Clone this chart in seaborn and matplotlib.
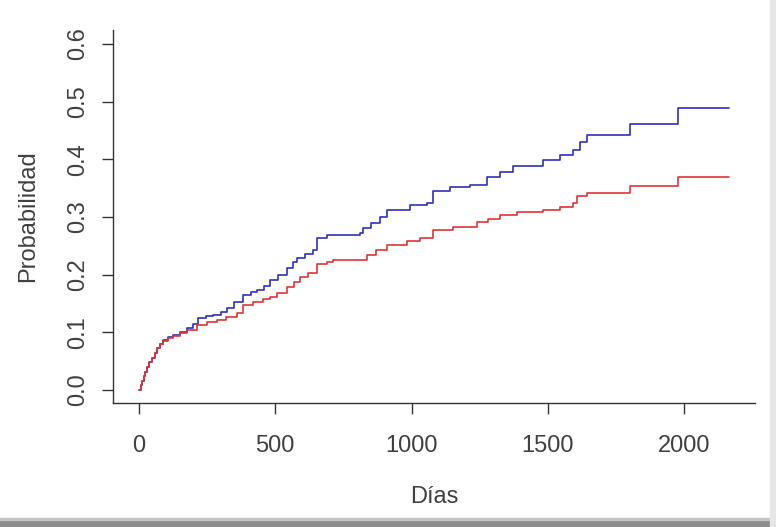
import pandas as pd
import matplotlib.pyplot as plt
import seaborn as sns
from matplotlib.patches import Rectangle

# === Data (step curves) ===
blue_t = [0, 6, 12, 18, 24, 30, 38, 48, 58, 68, 78, 90, 105, 125, 150, 176, 200,
          216, 245, 271, 300, 323, 350, 382, 410, 433, 460, 481, 510, 543, 565,
          580, 610, 638, 653, 690, 811, 822, 850, 884, 910, 994, 1056, 1079, 1141,
          1214, 1276, 1324, 1372, 1482, 1544, 1592, 1618, 1643, 1801, 1977, 2165]
blue_v = [0.0, 0.008, 0.016, 0.024, 0.032, 0.04, 0.048, 0.056, 0.064, 0.072, 0.08,
          0.087, 0.092, 0.095, 0.101, 0.107, 0.115, 0.125, 0.128, 0.13, 0.136,
          0.142, 0.152, 0.165, 0.17, 0.173, 0.181, 0.19, 0.2, 0.211, 0.222, 0.229,
          0.235, 0.243, 0.263, 0.269, 0.272, 0.281, 0.29, 0.3, 0.312, 0.32, 0.324,
          0.345, 0.352, 0.355, 0.369, 0.378, 0.388, 0.399, 0.407, 0.416, 0.43,
          0.442, 0.461, 0.489, 0.489]

red_t = [0, 6, 12, 18, 24, 30, 38, 48, 58, 68, 78, 90, 105, 125, 150, 176, 212,
         250, 286, 320, 359, 382, 420, 455, 480, 506, 543, 570, 590, 620, 653, 690,
         712, 800, 836, 870, 910, 983, 1031, 1079, 1152, 1240, 1280, 1324, 1386,
         1482, 1544, 1592, 1606, 1643, 1801, 1977, 2165]
red_v = [0.0, 0.008, 0.016, 0.024, 0.032, 0.04, 0.048, 0.056, 0.064, 0.072, 0.08,
         0.085, 0.09, 0.093, 0.098, 0.104, 0.112, 0.118, 0.122, 0.126, 0.133, 0.148,
         0.153, 0.158, 0.162, 0.168, 0.178, 0.188, 0.196, 0.203, 0.218, 0.222,
         0.225, 0.226, 0.234, 0.243, 0.251, 0.258, 0.263, 0.277, 0.282, 0.291,
         0.297, 0.303, 0.308, 0.312, 0.317, 0.324, 0.336, 0.341, 0.354, 0.369, 0.369]

x_ticks = [0, 500, 1000, 1500, 2000]
y_ticks = [0.0, 0.1, 0.2, 0.3, 0.4, 0.5, 0.6]

df = pd.concat([
    pd.DataFrame({"dias": blue_t, "prob": blue_v, "grupo": "azul"}),
    pd.DataFrame({"dias": red_t, "prob": red_v, "grupo": "rojo"}),
])

sns.set_style("ticks")
plt.rcParams["font.family"] = ["Liberation Sans", "DejaVu Sans"]

fig = plt.figure(figsize=(7.76, 5.27), dpi=100)
fig.patch.set_facecolor("white")
ax = fig.add_axes([113 / 776, 1 - 403 / 527, 642 / 776, 373 / 527])

sns.lineplot(data=df, x="dias", y="prob", hue="grupo",
             palette={"azul": "#3030bc", "rojo": "#e03434"},
             drawstyle="steps-post", estimator=None, legend=False,
             linewidth=1.2, ax=ax)

ax.set_xlim(-95, 2260)
ax.set_ylim(-0.0225, 0.624)
ax.set_xticks(x_ticks)
ax.set_xticklabels([str(t) for t in x_ticks])
ax.set_yticks(y_ticks)
ax.set_yticklabels([f"{t:.1f}" for t in y_ticks], rotation=90, va="center")

for side in ["top", "right"]:
    ax.spines[side].set_visible(False)
for side in ["left", "bottom"]:
    ax.spines[side].set_color("#333333")
    ax.spines[side].set_linewidth(1.0)

ax.tick_params(axis="both", direction="out", length=8, width=1.0,
               color="#333333", labelsize=17, labelcolor="#404040")
ax.tick_params(axis="x", pad=15)
ax.tick_params(axis="y", pad=9)

ax.set_xlabel("Días", fontsize=17, color="#404040")
ax.set_ylabel("Probabilidad", fontsize=17, color="#404040")
ax.xaxis.set_label_coords(0.5, (403 - 497) / 373)
ax.xaxis.label.set_va("center")
ax.yaxis.set_label_coords((28 - 113) / 642, 0.5)
ax.yaxis.label.set_va("center")

# frame shadow of the original picture
fig.add_artist(Rectangle((0, 0), 1, 7 / 527, transform=fig.transFigure,
                         color="#8c8c8c", zorder=0))
fig.add_artist(Rectangle((0, 7 / 527), 1, 2 / 527, transform=fig.transFigure,
                         color="#c4c4c4", zorder=0))
fig.add_artist(Rectangle((1 - 6 / 776, 0), 6 / 776, 1, transform=fig.transFigure,
                         color="#e6e6e6", zorder=0))

fig.savefig("out.png", dpi=100)
